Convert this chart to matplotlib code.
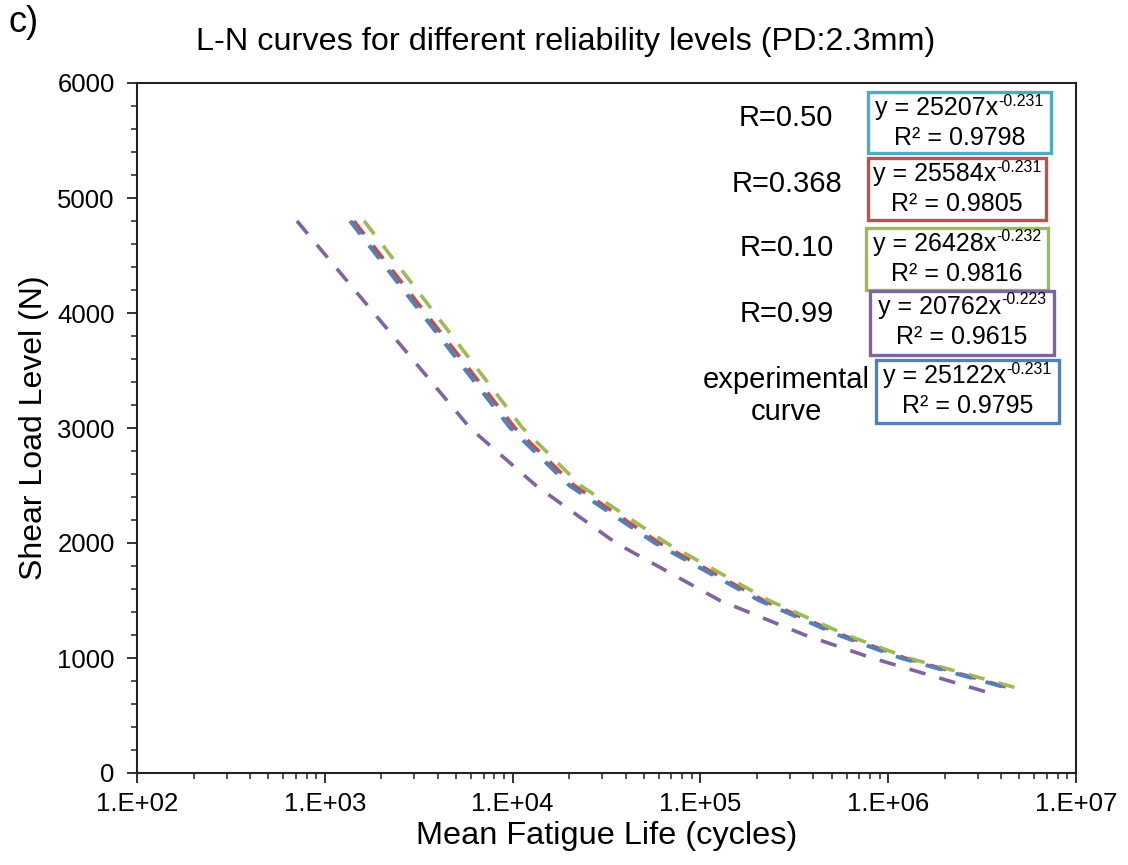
import math
import matplotlib
matplotlib.use("Agg")
import matplotlib.pyplot as plt
from matplotlib.patches import Rectangle
from matplotlib.ticker import FixedLocator, FuncFormatter, MultipleLocator, LogLocator, NullFormatter

plt.rcParams['font.family'] = ['Liberation Sans', 'DejaVu Sans']

# Shear load levels (N) at which fatigue lives are plotted
load_main = [4800, 3000, 2500, 2000, 1500, 1200, 1000, 725]
load_r099 = [4800, 3000, 2500, 2000, 1500, 1200, 1000, 700]

# Fatigue life (cycles) for each reliability level
life_r050 = [1380, 9850, 20300, 58000, 208000, 548000, 1180000, 4650000]
life_r0368 = [1430, 10300, 21300, 60500, 217000, 570000, 1230000, 4750000]
life_r010 = [1620, 11300, 23000, 66000, 232000, 600000, 1280000, 5200000]
life_r099 = [711, 5930, 13300, 35500, 127000, 360000, 820000, 3400000]
life_exp = [1360, 9700, 20000, 57000, 205000, 540000, 1160000, 4600000]

# Power-law fit annotations
fit_labels = ["R=0.50", "R=0.368", "R=0.10", "R=0.99", "experimental\ncurve"]
fit_coef = ["25207", "25584", "26428", "20762", "25122"]
fit_exp = ["-0.231", "-0.231", "-0.232", "-0.223", "-0.231"]
fit_r2 = ["0.9798", "0.9805", "0.9816", "0.9615", "0.9795"]

C_CYAN = "#4BACC6"
C_RED = "#C0504D"
C_GREEN = "#9BBB59"
C_PURPLE = "#8064A2"
C_BLUE = "#4F81BD"
box_colors = [C_CYAN, C_RED, C_GREEN, C_PURPLE, C_BLUE]

W, H = 1128, 865
fig = plt.figure(figsize=(W / 100, H / 100), dpi=100)
ax = fig.add_axes([137 / W, 1 - 773 / H, (1076 - 137) / W, (773 - 83) / H])

dash = dict(lw=2.6, dashes=(4.6, 4.0), dash_capstyle='butt')
ax.plot(life_r050, load_main, color=C_CYAN, **dash)
ax.plot(life_r0368, load_main, color=C_RED, **dash)
ax.plot(life_r010, load_main, color=C_GREEN, **dash)
ax.plot(life_r099, load_r099, color=C_PURPLE, **dash)
ax.plot(life_exp, load_main, color=C_BLUE, **dash)

ax.set_xscale('log')
ax.set_xlim(1e2, 1e7)
ax.set_ylim(0, 6000)
ax.xaxis.set_major_locator(FixedLocator([1e2, 1e3, 1e4, 1e5, 1e6, 1e7]))
ax.xaxis.set_minor_locator(LogLocator(base=10, subs=range(2, 10), numticks=20))
ax.xaxis.set_minor_formatter(NullFormatter())
ax.xaxis.set_major_formatter(FuncFormatter(lambda v, p: "1.E+%02d" % round(math.log10(v))))
ax.yaxis.set_major_locator(MultipleLocator(1000))
ax.yaxis.set_minor_locator(MultipleLocator(200))

for s in ax.spines.values():
    s.set_linewidth(1.5)
    s.set_color("#222222")
ax.tick_params(which='major', direction='out', length=7, width=1.3, labelsize=18.5, colors="#222222")
ax.tick_params(axis='y', which='major', pad=9)
ax.tick_params(axis='x', which='major', pad=7)
ax.tick_params(which='minor', direction='out', length=4, width=1.1, colors="#222222")
ax.tick_params(labelcolor='black')

ax.set_xlabel("Mean Fatigue Life (cycles)", fontsize=23.4, labelpad=3)
ax.set_ylabel("Shear Load Level (N)", fontsize=23, labelpad=6)

fig.text(566 / W, 1 - 42 / H, "L-N curves for different reliability levels (PD:2.3mm)",
         fontsize=23.3, ha='center', va='center')
fig.text(8 / W, 1 - 22 / H, "c)", fontsize=26, ha='left', va='center')

# Equation boxes (pixel extents x0, x1, y0, y1) and label centres
boxes = [(868, 1051, 92, 153), (868, 1046, 158, 220), (866, 1048, 228, 290),
         (870, 1054, 291, 355), (876, 1059, 360, 423)]
label_pos = [(786, 118), (787, 184), (787, 248), (787, 314), (786, 396)]

renderer = fig.canvas.get_renderer()
main_fs, sup_fs = 18, 11.5

for i, (x0, x1, y0, y1) in enumerate(boxes):
    fig.add_artist(Rectangle((x0 / W, 1 - y1 / H), (x1 - x0) / W, (y1 - y0) / H,
                             transform=fig.transFigure, fill=False,
                             ec=box_colors[i], lw=2.4))
    cx = (x0 + x1) / 2
    # equation line: base text plus a raised exponent, centred as a pair
    base = fig.text(0, 0, "y = %sx" % fit_coef[i], fontsize=main_fs)
    sup = fig.text(0, 0, fit_exp[i], fontsize=sup_fs)
    wb = base.get_window_extent(renderer).width
    ws = sup.get_window_extent(renderer).width
    left = cx - (wb + ws) / 2
    ly = y0 + 16
    base.set_position((left / W, 1 - ly / H))
    base.set_va('center')
    sup.set_position(((left + wb) / W, 1 - (ly - 7) / H))
    sup.set_va('center')
    fig.text(cx / W, 1 - (y0 + 46) / H, "R\u00b2 = %s" % fit_r2[i],
             fontsize=main_fs, ha='center', va='center')
    lx, lyy = label_pos[i]
    fig.text(lx / W, 1 - lyy / H, fit_labels[i], fontsize=21, ha='center',
             va='center', linespacing=1.15)

fig.savefig("out.png", dpi=100)
